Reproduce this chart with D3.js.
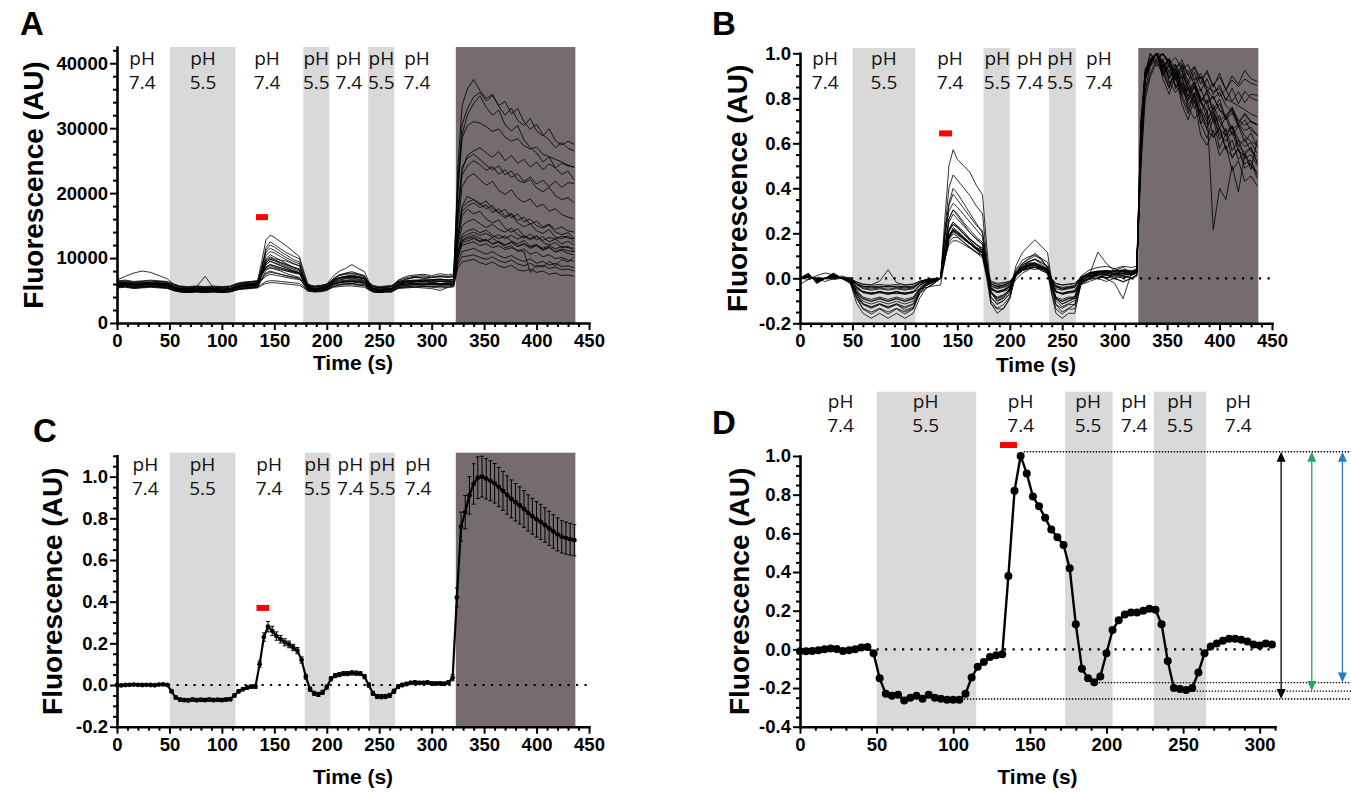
<!DOCTYPE html>
<html><head><meta charset="utf-8">
<script src="https://cdn.jsdelivr.net/npm/d3@7"></script>
<style>
body{margin:0;background:#fff;}
svg{display:block;}
</style></head><body>
<svg id="chart" width="1351" height="792"></svg>
<script>
// ---------------- DATA ----------------
// Panels A/B: single-cell traces (fluorescence in thousands of AU), sampled at traceTime (s)
const traceTime = [0,8,16,24,32,40,48,54,60,68,76,84,92,100,108,114,120,128,134,138,142,146,150,156,162,168,174,178,182,188,194,200,206,212,218,224,230,236,240,244,250,256,262,268,276,284,292,300,308,316,321,325,329,334,340,346,352,358,364,370,376,382,388,394,400,406,412,418,424,430,436];
const cell01 = [6.0,6.1,5.9,6.0,6.1,6.0,5.9, 5.5,5.2,5.1,5.6,7.2,5.4,5.1,5.2, 5.6,5.8,5.9,6.0, 8.4,11.6,12.5,12.1, 11.4,10.8,10.3,9.9, 7.6,5.6,5.3,5.4,5.6, 6.6,7.3,7.5,7.6,7.4,7.2, 6.0,5.3,5.1,5.2,5.3, 6.2,6.8,7.0,7.1,7.0,7.2,7.1, 7.2,24.0,33.5, 36.0,37.5,35.8,34.6,35.2,33.4,32.0,33.1,31.2,30.4,31.5,29.6,28.8,29.9,28.1,27.4,28.0,27.5];
const cell02 = [6.6,7.2,7.7,8.0,7.8,7.3,6.8, 6.0,5.6,5.5,5.6,5.5,5.4,5.5,5.6, 6.0,6.2,6.4,6.5, 9.5,12.8,13.5,13.2, 12.5,11.8,11.0,10.2, 8.0,6.0,5.6,5.7,6.0, 7.2,8.0,8.4,9.0,8.4,7.9, 6.4,5.6,5.4,5.5,5.6, 6.6,7.2,7.4,7.5,7.3,7.6,7.4, 7.6,22.0,30.5, 33.0,34.8,35.5,34.2,35.0,33.5,34.1,32.2,33.0,31.0,29.8,30.6,29.0,28.2,27.0,27.8,26.9,26.5];
const cell03 = [6.2,6.3,6.1,6.2,6.3,6.2,6.1, 5.6,5.3,5.3,5.2,5.3,5.2,5.3,5.2, 5.7,6.0,6.1,6.2, 8.8,10.9,11.5,11.2, 10.6,10.0,9.5,9.1, 7.2,5.6,5.3,5.4,5.7, 6.8,7.4,7.6,7.7,7.5,7.2, 6.0,5.4,5.2,5.3,5.4, 6.3,6.8,7.0,6.9,7.0,7.1,7.0, 7.1,21.0,28.5, 30.4,31.0,30.8,30.2,29.5,29.9,28.6,28.0,28.4,27.3,26.8,27.1,26.0,25.6,25.2,24.8,24.3,24.0];
const cell04 = [5.8,5.9,5.7,5.8,5.9,5.8,5.7, 5.3,5.0,4.9,5.0,4.9,5.0,4.9,5.0, 5.4,5.6,5.7,5.8, 8.2,11.2,12.0,11.7, 11.0,10.4,9.8,9.4, 7.0,5.3,5.0,5.1,5.4, 6.3,6.9,7.1,7.2,7.0,6.8, 5.7,5.1,4.9,5.0,5.1, 5.9,6.4,6.5,6.6,6.5,6.7,6.6, 6.7,20.0,29.0, 32.0,33.8,35.0,33.2,32.0,32.8,30.5,29.6,30.4,28.2,27.0,26.2,24.8,25.6,23.8,22.9,23.4,22.0];
const cell05 = [6.0,5.9,6.1,6.0,5.9,6.0,6.1, 5.5,5.2,5.1,5.2,5.3,5.2,5.1,5.2, 5.6,5.9,6.0,6.0, 8.0,10.4,11.0,10.8, 10.2,9.7,9.2,8.8, 6.9,5.5,5.2,5.3,5.6, 6.4,6.9,7.1,7.0,7.1,6.9, 5.8,5.2,5.0,5.1,5.2, 6.0,6.5,6.6,6.5,6.7,6.6,6.6, 6.7,17.0,23.5, 25.8,26.5,27.0,26.2,25.5,26.4,25.0,25.8,24.6,25.2,24.0,24.8,23.6,24.5,23.9,24.6,24.2,24.0];
const cell06 = [5.6,5.7,5.5,5.6,5.7,5.6,5.5, 5.1,4.9,4.8,4.9,4.8,4.9,4.8,4.9, 5.2,5.4,5.5,5.6, 7.6,9.9,10.5,10.2, 9.6,9.1,8.6,8.3, 6.5,5.1,4.9,5.0,5.2, 5.9,6.3,6.5,6.4,6.5,6.3, 5.3,4.9,4.7,4.8,4.9, 5.6,6.0,6.1,6.2,6.0,6.1,6.1, 6.2,17.5,24.0, 25.4,26.0,25.2,24.3,23.6,24.2,22.8,23.4,22.0,21.6,22.1,20.8,20.2,20.9,19.6,19.0,19.3,18.5];
const cell07 = [6.3,6.4,6.2,6.3,6.3,6.4,6.2, 5.8,5.5,5.4,5.5,5.4,5.5,5.4,5.5, 5.9,6.1,6.2,6.3, 7.8,9.5,10.0,9.8, 9.3,8.9,8.5,8.2, 6.8,5.7,5.5,5.6,5.8, 6.8,7.4,7.7,7.9,7.6,7.3, 6.2,5.6,5.4,5.5,5.6, 6.5,7.0,7.2,7.3,7.1,7.3,7.2, 7.3,16.5,22.8, 24.2,25.0,24.4,23.5,24.1,22.9,23.6,22.4,23.0,21.8,22.5,21.4,22.0,21.0,21.8,20.9,21.6,21.5];
const cell08 = [5.9,6.0,5.8,5.9,6.0,5.9,5.8, 5.4,5.1,5.0,5.1,5.0,5.1,5.0,5.1, 5.5,5.7,5.8,5.9, 7.5,9.0,9.5,9.3, 8.9,8.5,8.1,7.8, 6.4,5.3,5.1,5.2,5.4, 6.2,6.7,6.9,7.0,6.8,6.6, 5.6,5.1,5.0,5.1,5.2, 5.9,6.3,6.4,6.5,6.4,6.5,6.4, 6.5,15.0,21.0, 22.4,23.0,22.1,21.2,21.8,20.4,19.8,20.5,19.2,18.6,19.1,17.9,18.3,17.2,17.6,16.7,16.3,16.0];
const cell09 = [6.1,6.2,6.0,6.1,6.2,6.1,6.0, 5.6,5.3,5.2,5.3,5.2,5.3,5.2,5.3, 5.7,5.9,6.0,6.1, 7.3,8.6,9.0,8.8, 8.5,8.2,7.9,7.6, 6.4,5.5,5.3,5.4,5.6, 6.3,6.6,6.8,6.9,6.7,6.5, 5.8,5.3,5.2,5.3,5.3, 6.0,6.2,6.3,6.4,6.3,6.4,6.3, 6.4,13.5,18.0, 19.5,19.0,18.2,18.8,17.6,17.0,17.5,16.2,16.8,15.6,16.0,15.0,14.6,15.1,14.0,13.6,13.9,13.0];
const cell10 = [5.7,5.8,5.6,5.7,5.8,5.7,5.6, 5.2,4.9,4.8,4.9,4.8,4.9,4.8,4.9, 5.3,5.5,5.6,5.7, 7.4,9.0,9.5,9.2, 8.8,8.4,8.0,7.7, 6.3,5.1,4.9,5.0,5.2, 5.9,6.3,6.5,6.6,6.4,6.2, 5.4,4.9,4.8,4.9,5.0, 5.6,5.8,5.9,6.0,5.9,6.0,5.9, 6.0,13.0,17.8, 18.6,19.0,18.4,17.6,18.1,16.9,16.2,16.7,15.4,14.8,15.3,14.2,13.8,14.4,13.2,13.0,13.4,12.5];
const cell11 = [6.0,6.1,5.9,6.0,6.1,6.0,5.9, 5.5,5.2,5.1,5.2,5.1,5.2,5.1,5.2, 5.6,5.8,5.9,6.0, 7.6,9.3,9.8,9.6, 9.1,8.7,8.3,8.0, 6.6,5.4,5.2,5.3,5.5, 6.5,7.0,7.2,7.3,7.1,6.9, 5.9,5.3,5.1,5.2,5.3, 5.9,6.2,6.3,6.4,6.2,6.4,6.3, 6.4,13.5,17.2, 18.0,18.5,17.8,18.2,17.0,17.6,16.4,16.9,15.8,16.3,15.2,15.7,14.8,15.2,14.4,14.8,14.2,14.0];
const cell12 = [5.5,5.6,5.4,5.5,5.6,5.5,5.4, 5.0,4.8,4.7,4.8,4.7,4.8,4.7,4.8, 5.1,5.3,5.4,5.5, 6.8,8.1,8.5,8.3, 8.0,7.6,7.3,7.0, 5.9,5.0,4.8,4.9,5.1, 5.6,5.9,6.0,6.1,5.9,5.8, 5.2,4.8,4.7,4.8,4.8, 5.4,5.6,5.7,5.7,5.6,5.7,5.7, 5.8,12.5,16.5, 17.5,16.8,17.2,16.0,15.4,15.9,14.6,14.0,14.5,13.4,13.0,13.5,12.4,12.0,12.4,11.6,11.8,11.0];
const cell13 = [6.4,6.5,6.3,6.4,6.5,6.4,6.3, 5.9,5.6,5.5,5.6,5.5,5.6,5.5,5.6, 6.0,6.2,6.3,6.4, 7.5,8.5,8.8,8.6, 8.3,8.0,7.7,7.5, 6.6,5.8,5.6,5.7,5.9, 6.6,6.9,7.1,7.2,7.0,6.8, 6.1,5.6,5.5,5.6,5.6, 6.3,6.5,6.6,6.7,6.6,6.7,6.6, 6.7,12.0,15.0, 15.6,16.0,15.3,14.7,15.2,14.4,14.0,14.6,13.6,13.1,13.7,12.8,13.3,12.5,12.9,12.2,12.6,12.0];
const cell14 = [5.8,5.9,5.7,5.8,5.9,5.8,5.7, 5.3,5.0,4.9,5.0,4.9,5.0,4.9,5.0, 5.4,5.6,5.7,5.8, 7.6,9.3,9.8,9.6, 9.3,9.0,8.6,8.3, 6.6,5.3,5.0,5.1,5.4, 6.0,6.2,6.3,6.4,6.3,6.1, 5.5,5.0,4.9,5.0,5.1, 5.8,5.9,6.0,5.9,6.0,5.9,6.0, 6.1,11.0,13.6, 14.2,14.5,13.9,14.3,13.5,13.0,13.4,12.6,12.2,12.7,11.8,12.1,11.3,11.7,10.9,11.2,10.7,10.5];
const cell15 = [6.0,6.1,6.0,5.9,6.0,6.1,6.0, 5.5,5.2,5.1,5.2,5.1,5.2,5.1,5.2, 5.6,5.8,5.9,6.0, 7.4,8.6,9.0,8.8, 8.5,8.2,7.9,7.7, 6.6,5.5,5.2,5.3,5.6, 6.2,6.5,6.6,6.7,6.6,6.4, 5.8,5.3,5.1,5.2,5.3, 5.9,6.0,6.1,6.0,6.2,6.1,6.0, 6.1,10.8,13.2, 13.6,14.0,13.5,13.8,13.2,13.6,13.0,13.5,12.9,13.4,12.8,13.3,12.7,13.2,12.9,13.4,13.1,13.0];
const cell16 = [5.6,5.7,5.5,5.6,5.7,5.6,5.5, 5.1,4.9,4.8,4.9,4.8,4.9,4.8,4.9, 5.2,5.4,5.5,5.6, 6.7,7.7,8.0,7.8, 7.5,7.2,7.0,6.8, 6.0,5.1,4.9,5.0,5.2, 5.8,6.0,6.1,6.1,6.0,5.9, 5.3,4.9,4.8,4.9,4.9, 5.5,5.6,5.7,5.6,5.7,5.6,5.7, 5.8,10.5,12.8, 13.2,13.5,13.0,12.6,13.1,12.4,12.0,12.5,11.8,12.2,11.5,11.9,11.2,11.6,11.0,11.4,11.1,11.0];
const cell17 = [6.2,6.3,6.1,6.2,6.3,6.2,6.1, 5.7,5.4,5.3,5.4,5.3,5.4,5.2,5.3, 5.8,6.0,6.1,6.2, 8.0,9.7,10.2,9.9, 9.7,9.5,9.1,8.8, 7.2,5.8,5.5,5.6,5.8, 6.6,7.0,7.2,7.4,7.2,7.0, 6.1,5.6,5.4,5.5,5.6, 6.2,6.3,6.4,6.3,6.5,6.4,6.3, 6.4,11.0,12.6, 13.0,13.2,12.6,12.9,12.1,12.5,11.6,11.9,11.0,11.4,10.6,10.9,10.2,10.5,9.9,10.1,9.7,9.5];
const cell18 = [5.9,6.0,5.8,5.9,6.0,5.9,5.8, 5.4,5.1,5.0,5.1,5.0,5.1,5.0,5.1, 5.5,5.7,5.8,5.9, 6.6,7.2,7.5,7.4, 7.2,7.0,6.8,6.7, 6.1,5.3,5.1,5.2,5.4, 6.0,6.2,6.3,6.3,6.2,6.1, 5.6,5.2,5.0,5.1,5.2, 5.7,5.8,5.9,5.8,5.9,5.8,5.9, 6.0,10.2,12.4, 12.6,13.0,12.5,12.8,12.2,12.6,12.0,12.4,11.8,12.2,11.7,12.0,11.5,11.9,11.4,11.8,11.6,11.5];
const cell19 = [6.5,6.6,6.4,6.5,6.6,6.5,6.4, 6.0,5.7,5.6,5.7,5.6,5.7,5.6,5.7, 6.1,6.3,6.4,6.5, 7.6,8.3,8.5,8.4, 8.2,8.0,7.8,7.6, 6.8,5.9,5.7,5.8,6.0, 6.7,6.9,7.0,7.1,7.0,6.8, 6.3,5.8,5.6,5.7,5.8, 6.4,6.6,7.2,6.9,6.7,6.8,6.6, 6.7,10.0,12.0, 12.2,12.5,11.9,12.2,11.6,11.9,11.3,11.6,11.2,11.0,7.8,8.9,8.6,9.5,8.8,9.8,9.4,10.2];
const cell20 = [5.5,5.6,5.4,5.5,5.6,5.5,5.4, 5.0,4.8,4.7,4.8,4.7,4.8,4.7,4.8, 5.1,5.3,5.4,5.5, 6.0,6.4,6.5,6.5, 6.4,6.3,6.2,6.1, 5.6,5.0,4.8,4.9,5.1, 5.6,5.8,5.9,5.9,5.8,5.7, 5.2,4.8,4.7,4.8,4.8, 5.4,5.5,5.5,5.6,5.5,5.4,5.5, 5.6,9.5,11.0, 11.2,11.5,11.0,10.6,11.0,10.4,10.0,10.4,9.8,9.5,9.9,9.2,9.5,8.9,9.2,8.7,8.8,8.5];
const cell21 = [6.0,6.1,5.9,6.0,6.1,6.0,5.9, 5.5,5.3,5.2,5.3,5.2,5.3,5.2,5.3, 5.6,5.8,5.9,6.0, 6.9,7.5,7.8,7.7, 7.5,7.3,7.1,6.9, 6.3,5.5,5.3,5.4,5.6, 6.1,6.3,6.4,6.5,6.4,6.2, 5.7,5.3,5.2,5.3,5.3, 5.9,6.0,6.1,6.0,6.1,6.0,6.1, 6.2,9.0,10.2, 10.3,10.5,10.1,9.8,10.2,9.6,9.3,9.7,9.1,8.8,9.2,8.6,8.9,8.4,8.6,8.2,8.3,8.0];
const cell22 = [5.4,5.5,5.3,5.4,5.5,5.4,5.3, 5.0,4.8,4.7,4.8,4.7,4.8,4.7,4.8, 5.1,5.2,5.3,5.4, 5.8,6.1,6.2,6.2, 6.1,6.0,5.9,5.8, 5.4,4.9,4.8,4.8,5.0, 5.5,5.6,5.7,5.7,5.6,5.5, 5.1,4.8,4.7,4.8,4.8, 5.3,5.4,5.5,5.4,5.3,5.0,5.5, 5.6,8.5,9.4, 9.6,9.8,9.3,9.0,9.4,8.8,8.5,8.9,8.2,8.0,8.3,7.8,8.0,7.5,7.7,7.3,7.4,7.2];
const cellTraces = [cell01,cell02,cell03,cell04,cell05,cell06,cell07,cell08,cell09,cell10,cell11,cell12,cell13,cell14,cell15,cell16,cell17,cell18,cell19,cell20,cell21,cell22];
const rawUnit = 1000; // values above are in thousands of AU
const baselineSamples = 7; // samples 0-48 s form F0 for the normalised panel B

// Panel C: mean ± SEM of normalised traces
const meanTime = [0,4,8,12,16,20,24,28,32,36,40,44,48,52,56,60,64,68,72,76,80,84,88,92,96,100,104,108,112,116,120,124,128,132,136,140,144,148,152,156,160,164,168,172,176,180,184,188,192,196,200,204,208,212,216,220,224,228,232,236,240,244,248,252,256,260,264,268,272,276,280,284,288,292,296,300,304,308,312,316,320,324,328,332,336,340,344,348,352,356,360,364,368,372,376,380,384,388,392,396,400,404,408,412,416,420,424,428,432,436];
const meanValue = [0.000,-0.002,0.000,0.001,0.002,0.001,0.000,0.001,0.000,-0.001,0.002,0.003,0.000,
 -0.030,-0.060,-0.070,-0.072,-0.073,-0.070,-0.072,-0.071,-0.072,-0.070,-0.072,-0.071,-0.072,-0.070,-0.068,
 -0.050,-0.030,-0.020,-0.012,-0.008,-0.008,
 0.100,0.230,0.280,0.260,0.235,0.220,0.205,0.195,0.180,0.165,0.120,
 0.040,-0.020,-0.040,-0.045,-0.035,-0.010,
 0.030,0.045,0.050,0.055,0.055,0.058,0.057,0.055,0.040,
 0.000,-0.040,-0.055,-0.056,-0.055,-0.050,-0.030,
 -0.008,0.000,0.005,0.010,0.012,0.010,0.010,0.012,0.008,0.007,0.008,0.006,0.012,0.035,
 0.420,0.760,0.830,0.910,0.965,0.995,1.000,0.990,0.980,0.968,0.950,0.932,0.912,0.893,0.877,0.862,0.845,0.826,0.810,0.795,0.783,0.768,0.752,0.737,0.723,0.712,0.705,0.700,0.695];
const meanSem = [0.005,0.005,0.005,0.005,0.005,0.005,0.005,0.005,0.005,0.005,0.005,0.005,0.005,
 0.008,0.008,0.008,0.008,0.008,0.008,0.008,0.008,0.008,0.008,0.008,0.008,0.008,0.008,0.008,
 0.008,0.008,0.008,0.008,0.008,0.008,
 0.015,0.020,0.025,0.022,0.020,0.018,0.017,0.016,0.015,0.015,0.015,
 0.012,0.010,0.010,0.010,0.010,0.010,
 0.010,0.010,0.010,0.010,0.010,0.010,0.010,0.010,0.010,
 0.010,0.010,0.010,0.010,0.010,0.010,0.010,
 0.008,0.008,0.008,0.008,0.008,0.008,0.008,0.008,0.008,0.008,0.008,0.008,0.008,0.015,
 0.045,0.070,0.080,0.090,0.097,0.100,0.098,0.097,0.096,0.095,0.094,0.093,0.092,0.091,0.090,0.089,0.088,0.087,0.086,0.085,0.084,0.083,0.082,0.080,0.079,0.078,0.077,0.076,0.075];

// Panel D: representative normalised trace
const repTime = [0,4,8,12,16,20,24,28,32,36,40,44,48,52,56,60,64,68,72,76,80,84,88,92,96,100,104,108,112,116,120,124,128,132,136,140,144,148,152,156,160,164,168,172,176,180,184,188,192,196,200,204,208,212,216,220,224,228,232,236,240,244,248,252,256,260,264,268,272,276,280,284,288,292,296,300,304,308];
const repValue = [-0.010,-0.010,-0.008,-0.005,0.000,0.005,0.002,-0.008,-0.005,0.000,0.010,0.012,-0.020,
 -0.150,-0.230,-0.240,-0.235,-0.265,-0.250,-0.240,-0.255,-0.235,-0.250,-0.255,-0.260,-0.260,-0.260,-0.230,
 -0.145,-0.090,-0.065,-0.040,-0.030,-0.025,
 0.380,0.820,1.000,0.910,0.790,0.740,0.680,0.620,0.580,0.540,0.420,
 0.130,-0.100,-0.150,-0.170,-0.140,-0.020,
 0.100,0.150,0.180,0.190,0.190,0.200,0.210,0.205,0.130,
 -0.060,-0.200,-0.205,-0.210,-0.200,-0.120,-0.020,
 0.015,0.030,0.045,0.055,0.055,0.050,0.040,0.025,0.020,0.030,0.025];
const repPeak = 1.022;                       // top dotted reference
const repTroughs = [-0.257, -0.216, -0.172]; // bottom dotted references
const repTroughStart = [105, 253, 193];      // time where each trough line starts
const arrowTime = [314, 334, 354];
const arrowColor = ["#000000", "#2ca25f", "#2b7bbf"];

// Solutions / labels
const phText = ["7.4","5.5","7.4","5.5","7.4","5.5","7.4"];
const phTimeA = [24,82,143,190,221,252,286];
const phTimeB = [24,80,143,188,219,248,285];
const phTimeC = [27,81.5,145,191,222.5,253,287];
const phTimeD = [26.5,82,144,188,218,248,286];
const acidA = [[50.5,113],[177.5,202.5],[239.5,264.5]];
const acidB = [[50,110],[175,200],[237.5,263]];
const acidC = [[50.5,113],[179,203.5],[240.5,265]];
const acidD = [[50,115],[173,204],[231,265]];
const ionoA = [323,437], ionoB = [322.5,437], ionoC = [323,437];
const stimA = [132.5,144, 16300], stimB = [132.6,145, 0.644], stimC = [133,145, 0.37], stimD = [130.5,141.6, 1.057];
const xTicks450 = [0,50,100,150,200,250,300,350,400,450];
const xTicks300 = [0,50,100,150,200,250,300];
const yTicksA = [0,10000,20000,30000,40000];
const yTicksB = [-0.2,0,0.2,0.4,0.6,0.8,1.0];
const yTicksC = [-0.2,0,0.2,0.4,0.6,0.8,1.0];
const yTicksD = [-0.4,-0.2,0,0.2,0.4,0.6,0.8,1.0];

// ---------------- DRAWING ----------------
const svg = d3.select("#chart");
const AX = '"Liberation Sans", Arial, Helvetica, sans-serif';
const PH = '"Open Sans", "Noto Sans", sans-serif';
const LIGHT = "#d9d9d9", DARK = "#756d6d";

function makePanel(c) {
  const g = svg.append("g");
  const x = d3.scaleLinear().domain(c.xDomain).range([c.left, c.right]);
  const y = d3.scaleLinear().domain(c.yDomain).range([c.bottom, c.top]);
  g.selectAll("rect.acid").data(c.acid).join("rect").attr("class","acid")
    .attr("x", d => x(d[0])).attr("width", d => x(d[1]) - x(d[0]))
    .attr("y", c.bandTop).attr("height", c.bottom - c.bandTop).attr("fill", LIGHT);
  if (c.iono) g.append("rect").attr("x", x(c.iono[0])).attr("width", x(c.iono[1]) - x(c.iono[0]))
    .attr("y", c.bandTop).attr("height", c.bottom - c.bandTop).attr("fill", DARK);
  const lab = g.selectAll("g.ph").data(c.phTime).join("g").attr("class","ph")
    .attr("transform", d => `translate(${x(d)},0)`);
  lab.append("text").attr("y", c.phY).attr("dy","0.35em").attr("text-anchor","middle")
    .style("font-family", PH).style("font-size","19px").attr("fill","#111").text("pH");
  lab.append("text").attr("y", c.phY + 24).attr("dy","0.35em").attr("text-anchor","middle")
    .style("font-family", PH).style("font-size","19px").attr("fill","#111").text((d,i) => phText[i]);
  if (c.zero) g.append("line").attr("x1", x(c.xDomain[0])).attr("x2", x(c.xDomain[1]))
    .attr("y1", y(0)).attr("y2", y(0)).attr("stroke","#000").attr("stroke-width",2.2)
    .attr("stroke-dasharray","2.2,6.3");
  return {g, x, y, c};
}

function drawAxes(p) {
  const {g, x, y, c} = p;
  const xMinor = d3.range(c.xDomain[0], c.xDomain[1] + 0.001, 10).filter(v => v % 50 !== 0);
  const yMinor = d3.range(c.yDomain[0], c.yDomain[1] + 1e-9, c.yMinorStep)
    .map(v => +v.toFixed(4)).filter(v => !c.yTicks.some(t => Math.abs(t - v) < 1e-6));
  const gx = g.append("g").attr("transform", `translate(0,${c.bottom})`)
    .call(d3.axisBottom(x).tickValues(c.xTicks).tickSize(7).tickSizeOuter(0).tickPadding(4).tickFormat(d3.format("d")));
  const gxm = g.append("g").attr("transform", `translate(0,${c.bottom})`)
    .call(d3.axisBottom(x).tickValues(xMinor).tickSize(4).tickSizeOuter(0).tickFormat(""));
  const gy = g.append("g").attr("transform", `translate(${c.left},0)`)
    .call(d3.axisLeft(y).tickValues(c.yTicks).tickSize(7).tickSizeOuter(0).tickPadding(2).tickFormat(c.yFmt));
  const gym = g.append("g").attr("transform", `translate(${c.left},0)`)
    .call(d3.axisLeft(y).tickValues(yMinor).tickSize(4).tickSizeOuter(0).tickFormat(""));
  [gxm, gym].forEach(a => a.select(".domain").remove());
  [gx, gy, gxm, gym].forEach(a => {
    a.select(".domain").attr("stroke","#000").attr("stroke-width",2.6).attr("stroke-linecap","square");
    a.selectAll(".tick line").attr("stroke","#000").attr("stroke-width",2);
    a.selectAll(".tick text").style("font-family", AX).style("font-weight","bold")
      .style("font-size","18.5px").attr("fill","#000");
  });
  g.append("text").attr("x", (c.left + c.right) / 2).attr("y", c.timeY).attr("dy","0.35em")
    .attr("text-anchor","middle").style("font-family", AX).style("font-weight","bold")
    .style("font-size","21px").text("Time (s)");
  g.append("text").attr("transform", `translate(${c.ylabX},${(c.top + c.bottom) / 2}) rotate(-90)`)
    .attr("dy","0.35em").attr("text-anchor","middle").style("font-family", AX).style("font-weight","bold")
    .style("font-size","28px").text("Fluorescence (AU)");
  g.append("text").attr("x", c.letter[0]).attr("y", c.letter[1]).style("font-family", AX)
    .style("font-weight","bold").style("font-size","33px").text(c.name);
  g.append("rect").attr("x", x(c.stim[0])).attr("width", x(c.stim[1]) - x(c.stim[0]))
    .attr("y", y(c.stim[2]) - 3).attr("height", 6).attr("fill", "#ff0000");
}

const fmt1 = d => d.toFixed(1);

// ----- Panel A -----
const pA = makePanel({name:"A", xDomain:[0,450], yDomain:[0,42500], left:117, right:589, top:47, bottom:323,
  bandTop:47, acid:acidA, iono:ionoA, phTime:phTimeA, phY:58, zero:false});
const lineA = d3.line().x((d,i) => pA.x(traceTime[i])).y(d => pA.y(d * rawUnit));
pA.g.append("g").selectAll("path").data(cellTraces).join("path").attr("d", lineA)
  .attr("fill","none").attr("stroke","#000").attr("stroke-width",0.9).attr("stroke-opacity",0.9);
Object.assign(pA.c, {xTicks:xTicks450, yTicks:yTicksA, yMinorStep:2000, yFmt:d3.format("d"),
  timeY:363, ylabX:33, letter:[20,35], stim:stimA});
drawAxes(pA);

// ----- Panel B (panel A traces normalised per cell: (F - F0)/(Fmax - F0)) -----
const normTraces = cellTraces.map(v => {
  const f0 = d3.mean(v.slice(0, baselineSamples)), fm = d3.max(v);
  return v.map(a => (a - f0) / (fm - f0));
});
const pB = makePanel({name:"B", xDomain:[0,450], yDomain:[-0.2,1.0], left:800, right:1272, top:53.3, bottom:323.3,
  bandTop:48, acid:acidB, iono:ionoB, phTime:phTimeB, phY:58, zero:true});
const lineB = d3.line().x((d,i) => pB.x(traceTime[i])).y(d => pB.y(d));
pB.g.append("g").selectAll("path").data(normTraces).join("path").attr("d", lineB)
  .attr("fill","none").attr("stroke","#000").attr("stroke-width",0.9).attr("stroke-opacity",0.9);
Object.assign(pB.c, {xTicks:xTicks450, yTicks:yTicksB, yMinorStep:0.05, yFmt:fmt1,
  timeY:365, ylabX:737, letter:[712,35], stim:stimB});
drawAxes(pB);

// ----- Panel C -----
const pC = makePanel({name:"C", xDomain:[0,450], yDomain:[-0.2,1.1], left:117, right:589, top:455.8, bottom:726.7,
  bandTop:452.7, acid:acidC, iono:ionoC, phTime:phTimeC, phY:464, zero:true});
const meanPts = meanTime.map((t,i) => ({t, v: meanValue[i], e: meanSem[i]}));
const eb = pC.g.append("g").selectAll("g").data(meanPts).join("g");
eb.append("line").attr("x1", d => pC.x(d.t)).attr("x2", d => pC.x(d.t))
  .attr("y1", d => pC.y(d.v - d.e)).attr("y2", d => pC.y(d.v + d.e)).attr("stroke","#000").attr("stroke-width",1);
eb.append("line").attr("x1", d => pC.x(d.t) - 2).attr("x2", d => pC.x(d.t) + 2)
  .attr("y1", d => pC.y(d.v + d.e)).attr("y2", d => pC.y(d.v + d.e)).attr("stroke","#000").attr("stroke-width",1);
eb.append("line").attr("x1", d => pC.x(d.t) - 2).attr("x2", d => pC.x(d.t) + 2)
  .attr("y1", d => pC.y(d.v - d.e)).attr("y2", d => pC.y(d.v - d.e)).attr("stroke","#000").attr("stroke-width",1);
pC.g.append("path").datum(meanPts).attr("d", d3.line().x(d => pC.x(d.t)).y(d => pC.y(d.v)))
  .attr("fill","none").attr("stroke","#000").attr("stroke-width",2.2);
pC.g.append("g").selectAll("circle").data(meanPts).join("circle")
  .attr("cx", d => pC.x(d.t)).attr("cy", d => pC.y(d.v)).attr("r", 2.4).attr("fill","#000");
Object.assign(pC.c, {xTicks:xTicks450, yTicks:yTicksC, yMinorStep:0.05, yFmt:fmt1,
  timeY:777, ylabX:52, letter:[33,442], stim:stimC});
drawAxes(pC);

// ----- Panel D -----
const pD = makePanel({name:"D", xDomain:[0,310], yDomain:[-0.4,1.0], left:800, right:1275, top:456, bottom:726.7,
  bandTop:391.7, acid:acidD, iono:null, phTime:phTimeD, phY:401, zero:true});
const repPts = repTime.map((t,i) => ({t, v: repValue[i]}));
pD.g.append("line").attr("x1", pD.x(146)).attr("x2", 1351).attr("y1", pD.y(repPeak)).attr("y2", pD.y(repPeak))
  .attr("stroke","#000").attr("stroke-width",1.4).attr("stroke-dasharray","1.4,1.6");
pD.g.selectAll("line.trough").data(repTroughs).join("line").attr("class","trough")
  .attr("x1", (d,i) => pD.x(repTroughStart[i])).attr("x2", 1351)
  .attr("y1", d => pD.y(d)).attr("y2", d => pD.y(d))
  .attr("stroke","#000").attr("stroke-width",1.4).attr("stroke-dasharray","1.4,1.6");
pD.g.append("path").datum(repPts).attr("d", d3.line().x(d => pD.x(d.t)).y(d => pD.y(d.v)))
  .attr("fill","none").attr("stroke","#000").attr("stroke-width",2.4);
pD.g.append("g").selectAll("circle").data(repPts).join("circle")
  .attr("cx", d => pD.x(d.t)).attr("cy", d => pD.y(d.v)).attr("r", 4).attr("fill","#000");
arrowTime.forEach((t,i) => {
  const ax = pD.x(t), y1 = pD.y(repPeak), y2 = pD.y(repTroughs[i]), col = arrowColor[i];
  pD.g.append("line").attr("x1", ax).attr("x2", ax).attr("y1", y1 + 8).attr("y2", y2 - 8)
    .attr("stroke", col).attr("stroke-width", 1.3);
  pD.g.append("path").attr("d", `M${ax},${y1} L${ax-4.5},${y1+10} L${ax+4.5},${y1+10} Z`).attr("fill", col);
  pD.g.append("path").attr("d", `M${ax},${y2} L${ax-4.5},${y2-10} L${ax+4.5},${y2-10} Z`).attr("fill", col);
});
Object.assign(pD.c, {xTicks:xTicks300, yTicks:yTicksD, yMinorStep:0.05, yFmt:fmt1,
  timeY:777, ylabX:739, letter:[712,434], stim:stimD});
drawAxes(pD);
</script>
</body></html>
